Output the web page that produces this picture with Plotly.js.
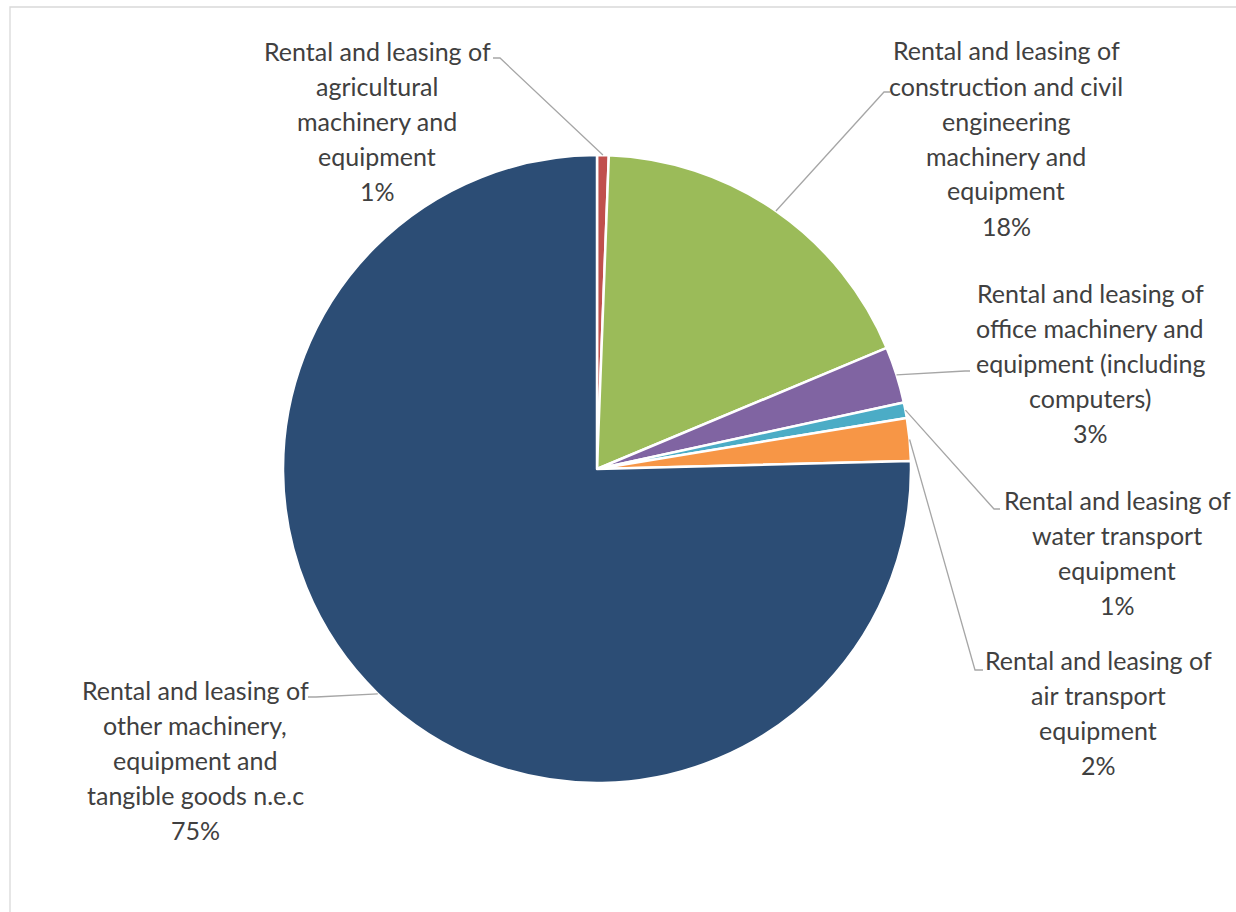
<!DOCTYPE html>
<html>
<head>
<meta charset="utf-8">
<script src="https://cdn.plot.ly/plotly-3.0.1.min.js"></script>
<style>html,body{margin:0;padding:0;background:#fff;}#chart{width:1236px;height:912px;}</style>
</head>
<body>
<div id="chart"></div>
<script>
// ---- data ----
const categories = [
  "Rental and leasing of agricultural machinery and equipment",
  "Rental and leasing of construction and civil engineering machinery and equipment",
  "Rental and leasing of office machinery and equipment (including computers)",
  "Rental and leasing of water transport equipment",
  "Rental and leasing of air transport equipment",
  "Rental and leasing of other machinery, equipment and tangible goods n.e.c"
];
const labelLines = [
  ["Rental and leasing of", "agricultural", "machinery and", "equipment"],
  ["Rental and leasing of", "construction and civil", "engineering", "machinery and", "equipment"],
  ["Rental and leasing of", "office machinery and", "equipment (including", "computers)"],
  ["Rental and leasing of", "water transport", "equipment"],
  ["Rental and leasing of", "air transport", "equipment"],
  ["Rental and leasing of", "other machinery,", "equipment and", "tangible goods n.e.c"]
];
const shares = [0.6, 18.1, 2.9, 0.8, 2.2, 75.4];
const colors = ["#C0504D", "#9BBB59", "#8064A2", "#4BACC6", "#F79646", "#2C4D75"];

// ---- layout geometry (pixels) ----
const W = 1236, H = 912;
const R = 314, CX = 597, CY = 469;
const M = {l: CX - R, r: W - (CX + R), t: CY - R, b: H - (CY + R), pad: 0};
const PW = W - M.l - M.r, PH = H - M.t - M.b;
const px2x = p => (p - M.l) / PW;
const py2y = p => (H - M.b - p) / PH;
const LINE_H = 35;

// label block centres and leader-line label ends (pixels)
const labelPos = [[377, 121], [1006, 138], [1090, 363], [1117, 552], [1098, 712], [195, 760]];
const leaderEnd = [[[493, 58], [500, 58]], [[890, 92], [884, 92]], [[970, 371], [965, 371]],
                   [[1000, 509], [994, 509]], [[983, 670], [975, 670]], [[308, 697], [316, 697]]];

const total = shares.reduce((a, b) => a + b, 0);
const annotations = [];
const shapes = [];
let cum = 0;
shares.forEach((v, i) => {
  const mid = (cum + v / 2) / total * 2 * Math.PI;
  cum += v;
  const sx = CX + R * Math.sin(mid), sy = CY - R * Math.cos(mid);
  const pct = Math.round(v / total * 100) + "%";
  const lines = labelLines[i].concat([pct]);
  const y0 = labelPos[i][1] - (lines.length - 1) * LINE_H / 2;
  lines.forEach((t, k) => {
    annotations.push({
      xref: "paper", yref: "paper",
      x: px2x(labelPos[i][0]), y: py2y(y0 + k * LINE_H),
      xanchor: "center", yanchor: "middle", align: "center", showarrow: false,
      text: t,
      font: {family: "Lato, 'Open Sans', sans-serif", size: 25, color: "#404040"}
    });
  });
  const e = leaderEnd[i];
  shapes.push({
    type: "path", xref: "paper", yref: "paper",
    path: `M ${px2x(e[0][0])} ${py2y(e[0][1])} L ${px2x(e[1][0])} ${py2y(e[1][1])} L ${px2x(sx)} ${py2y(sy)}`,
    line: {color: "#A6A6A6", width: 1.3}
  });
});
// chart area border
shapes.push({type: "rect", xref: "paper", yref: "paper",
  x0: px2x(10), x1: px2x(1240), y0: py2y(7), y1: py2y(930),
  line: {color: "#D9D9D9", width: 1.3}, layer: "below"});

const trace = {
  type: "pie",
  labels: categories,
  values: shares,
  sort: false,
  direction: "clockwise",
  rotation: 0,
  textinfo: "none",
  hoverinfo: "label+percent",
  marker: {colors: colors, line: {color: "#FFFFFF", width: 2.5}},
  domain: {x: [0, 1], y: [0, 1]}
};

Plotly.newPlot("chart", [trace], {
  width: W, height: H, margin: M,
  showlegend: false,
  paper_bgcolor: "#FFFFFF",
  annotations: annotations,
  shapes: shapes
}, {displayModeBar: false, staticPlot: true});
</script>
</body>
</html>
